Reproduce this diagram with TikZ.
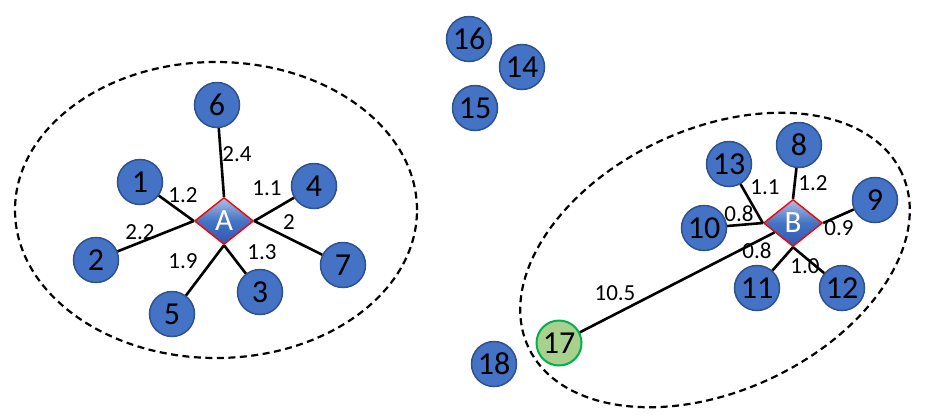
\documentclass[tikz,border=0pt]{standalone}
\usepackage{fontspec}
\setmainfont{Carlito}
\usepackage{tikz}
\usetikzlibrary{shapes.geometric}
\definecolor{nodeblue}{HTML}{4472C4}
\definecolor{nodeedge}{HTML}{2F528F}
\definecolor{leafgreen}{HTML}{A9D18E}
\definecolor{leafedge}{HTML}{00B050}
\definecolor{hubtop}{HTML}{A9C1EA}
\definecolor{hubbot}{HTML}{2F5BB0}

\begin{document}
\begin{tikzpicture}[x=1pt,y=-1pt]
    \tikzstyle{point}=[circle, fill=nodeblue, draw=nodeedge, line width=1.5pt, minimum size=45pt, inner sep=0pt, font=\fontsize{32}{32}\selectfont]
    \tikzstyle{outlier}=[point, fill=leafgreen, draw=leafedge, line width=2pt]
    \tikzstyle{hub}=[diamond, top color=hubtop, bottom color=hubbot, middle color=nodeblue, draw=red, line width=1.4pt, minimum width=59pt, minimum height=47pt, inner sep=0pt, text=white, font=\fontsize{31}{31}\selectfont]
    \tikzstyle{weight}=[inner sep=1pt, font=\fontsize{23}{23}\selectfont]
    \tikzstyle{cluster}=[draw=black, dash pattern=on 7pt off 4.5pt, line width=2.2pt]
    \tikzstyle{link}=[draw=black, line width=2.6pt]

    \useasboundingbox (0,0) rectangle (929,416);

    % cluster A
    \node[hub]    (A)   at (224,221) {A};
    \node[point]  (n1)  at (140,182) {1};
    \node[point]  (n2)  at (96,260)  {2};
    \node[point]  (n3)  at (260,292) {3};
    \node[point]  (n4)  at (314,186) {4};
    \node[point]  (n5)  at (172,314) {5};
    \node[point]  (n6)  at (217,105) {6};
    \node[point]  (n7)  at (343,265) {7};

    % cluster B
    \node[hub]    (B)   at (793,223) {B};
    \node[point]  (n8)  at (799,145) {8};
    \node[point]  (n9)  at (875,200) {9};
    \node[point]  (n10) at (704,228) {10};
    \node[point]  (n11) at (757,288) {11};
    \node[point]  (n12) at (842,288) {12};
    \node[point]  (n13) at (729,164) {13};
    \node[outlier] (n17) at (559,343) {17};

    % noise
    \node[point]  (n14) at (522,67)  {14};
    \node[point]  (n15) at (475,108) {15};
    \node[point]  (n16) at (469,39)  {16};
    \node[point]  (n18) at (494,364) {18};

    \draw [cluster] (216,210) ellipse [x radius=201pt, y radius=148pt];
    \draw [cluster, rotate around={25:(715,260)}] (715,260) ellipse [x radius=206pt, y radius=131pt];

    \draw [link] (n6) -- (A.north);
    \draw [link] (n1) -- (A.west);
    \draw [link] (n2) -- (A.west);
    \draw [link] (n4) -- (A.east);
    \draw [link] (n7) -- (A.east);
    \draw [link] (n5) -- (A.south);
    \draw [link] (n3) -- (A.south);

    \draw [link] (n8) -- (B.north);
    \draw [link] (n13) -- (B.west);
    \draw [link] (n10) -- (B.west);
    \draw [link] (n9) -- (B.east);
    \draw [link] (n11) -- (B.south);
    \draw [link] (n12) -- (B.south);
    \draw [link] (n17) -- (B);

    \node[weight] (w6)  at (237,154) {2.4};
    \node[weight] (w1)  at (183,195) {1.2};
    \node[weight] (w4)  at (267,188) {1.1};
    \node[weight] (w7)  at (289,222) {2};
    \node[weight] (w2)  at (140,232) {2.2};
    \node[weight] (w3)  at (262,252) {1.3};
    \node[weight] (w5)  at (183,261) {1.9};

    \node[weight] (w13) at (765,187) {1.1};
    \node[weight] (w8)  at (813,183) {1.2};
    \node[weight] (w10) at (739,214) {0.8};
    \node[weight] (w9)  at (839,228) {0.9};
    \node[weight] (w11) at (757,251) {0.8};
    \node[weight] (w12) at (805,266) {1.0};
    \node[weight] (w17) at (615,293) {10.5};
\end{tikzpicture}
\end{document}
